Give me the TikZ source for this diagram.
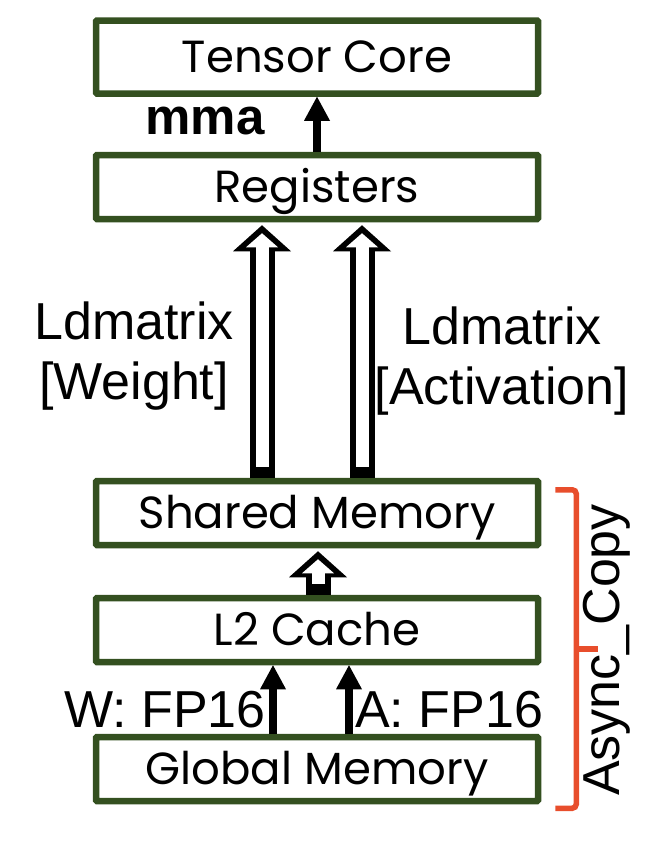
\documentclass[tikz,border=0pt]{standalone}
\usepackage{fontspec}
\setmainfont{Liberation Sans}
\newfontfamily\boxfont{Poppins}
\usepackage{tikz}
\usetikzlibrary{positioning, arrows.meta, calc}
\definecolor{memgreen}{RGB}{52,80,32}
\definecolor{bracered}{RGB}{232,78,44}

\begin{document}
\begin{tikzpicture}[x=1pt, y=1pt, node distance=120pt, on grid,
    mem/.style={draw=memgreen, line width=6.5pt, rounded corners=1pt, fill=white,
        minimum width=442pt, minimum height=64pt, inner sep=0pt,
        text height=31pt, text depth=0pt, font=\boxfont\fontsize{45}{48}\selectfont},
    lbl/.style={inner sep=0pt, align=center, font=\fontsize{52}{60}\selectfont},
    flow/.style={line width=8pt, -{Triangle[width=26pt,length=24pt,line width=0pt]}},
    hollow/.style={line width=25pt, shorten >=3pt, -{Triangle[width=58pt,length=26pt,line width=0pt]},
        postaction={draw=white, line width=13pt, shorten <=11pt, shorten >=11pt,
            -{Triangle[width=32pt,length=14pt,line width=0pt]}}},
    asyncbrace/.style={draw=bracered, line width=5.5pt, rounded corners=4pt}]
    \useasboundingbox (0,0) rectangle (664,-854);

    \node[mem] (gm) at (317,-769) {Global Memory};
    \node[mem, above=139pt of gm] (l2) {L2 Cache};
    \node[mem, above=117pt of l2] (sm) {Shared Memory};
    \node[mem, above=326pt of sm] (reg) {Registers};
    \node[mem, above=130pt of reg, minimum height=73pt] (tc) {Tensor Core};

    % labels
    \node[lbl, font=\bfseries\fontsize{51}{60}\selectfont] (mma) at (205,-121) {mma};
    \node[lbl] (ldw) at (134,-356) {Ldmatrix\\{}[Weight]};
    \node[lbl] (lda) at (502,-361) {Ldmatrix\\{}[Activation]};
    \node[lbl, anchor=base east] (wfp) at (266,-727) {W: FP16};
    \node[lbl, anchor=base west] (afp) at (355,-727) {A: FP16};
    \node[lbl, rotate=90] (ac) at (607,-650) {Async\_Copy};

    % data paths
    \draw[flow] (reg.north) -- (tc.south);
    \draw[hollow] ($(sm.north)+(-55,0)$) -- ($(reg.south)+(-55,0)$);
    \draw[hollow] ($(sm.north)+(45,0)$) -- ($(reg.south)+(45,0)$);
    \draw[hollow] ($(l2.north)+(1,0)$) -- ($(sm.south)+(1,0)$);
    \draw[flow] ($(gm.north)+(-44,0)$) -- ($(l2.south)+(-44,0)$);
    \draw[flow] ($(gm.north)+(32,0)$) -- ($(l2.south)+(32,0)$);

    % brace
    \coordinate (bt) at ($(sm.north east)+(14,-12)$);
    \coordinate (bb) at ($(gm.south east)+(14,-4)$);
    \draw[asyncbrace] (bt) -- ++(21,0) |- (bb);
    \draw[asyncbrace] ($(bt)!0.5!(bb)+(21,0)$) -- ++(22,0);
\end{tikzpicture}
\end{document}
